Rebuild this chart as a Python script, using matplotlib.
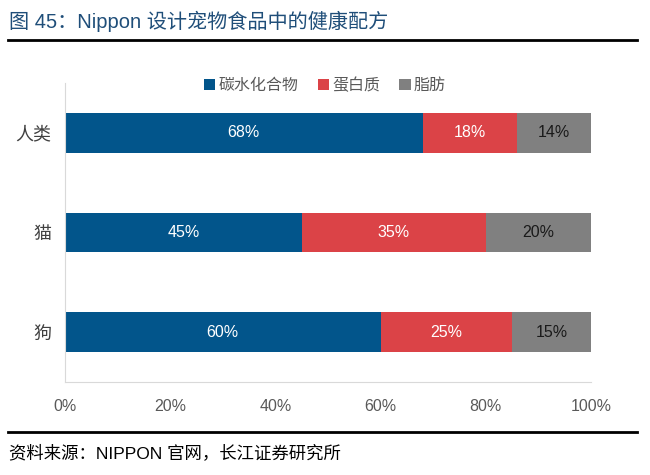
import numpy as np
import matplotlib.pyplot as plt
from matplotlib.lines import Line2D

plt.rcParams['font.family'] = ['Liberation Sans', 'Noto Sans CJK SC', 'DejaVu Sans']

# data
categories = ['人类', '猫', '狗']
series_names = ['碳水化合物', '蛋白质', '脂肪']
carbs = [68, 45, 60]
protein = [18, 35, 25]
fat = [14, 20, 15]
xticks = [0, 20, 40, 60, 80, 100]

colors = ['#02558B', '#DB4347', '#808080']
text_colors = ['white', 'white', '#1a1a1a']

fig = plt.figure(figsize=(6.5, 4.75), dpi=100)
ax = fig.add_axes([0.1, 0.196, 0.809, 0.629])

y = np.arange(len(categories))
left = np.zeros(len(categories))
for vals, name, c, tc in zip([carbs, protein, fat], series_names, colors, text_colors):
    bars = ax.barh(y, vals, left=left, height=0.4, color=c, label=name)
    for b, v in zip(bars, vals):
        ax.text(b.get_x() + b.get_width() / 2, b.get_y() + b.get_height() / 2,
                f'{v}%', ha='center', va='center', color=tc, fontsize=11.5)
    left = left + np.array(vals)

ax.set_xlim(0, 100)
ax.set_ylim(2.5, -0.5)
ax.set_yticks(y)
ax.set_yticklabels(categories, fontsize=13, color='#404040')
ax.set_xticks(xticks)
ax.set_xticklabels([f'{t}%' for t in xticks], fontsize=11.5, color='#595959')
ax.tick_params(axis='both', length=0)
ax.tick_params(axis='x', pad=12)
ax.tick_params(axis='y', pad=10)
for s in ['top', 'right']:
    ax.spines[s].set_visible(False)
for s in ['left', 'bottom']:
    ax.spines[s].set_color('#d9d9d9')

leg = fig.legend(loc='center', bbox_to_anchor=(0.5, 0.82), ncol=3, frameon=False,
                 fontsize=11.5, handlelength=0.7, handleheight=0.7, handletextpad=0.2,
                 columnspacing=1.2)
for t in leg.get_texts():
    t.set_color('#595959')

fig.text(0.014, 0.955, '图 45：Nippon 设计宠物食品中的健康配方', fontsize=14.5,
         color='#1F4E79', va='center', ha='left')
fig.add_artist(Line2D([0.012, 0.98], [0.916, 0.916], color='black', lw=2))
fig.add_artist(Line2D([0.012, 0.98], [0.09, 0.09], color='black', lw=2))
fig.text(0.014, 0.048, '资料来源：NIPPON 官网，长江证券研究所', fontsize=12.5,
         color='black', va='center', ha='left')

fig.savefig('out.png', dpi=100)
